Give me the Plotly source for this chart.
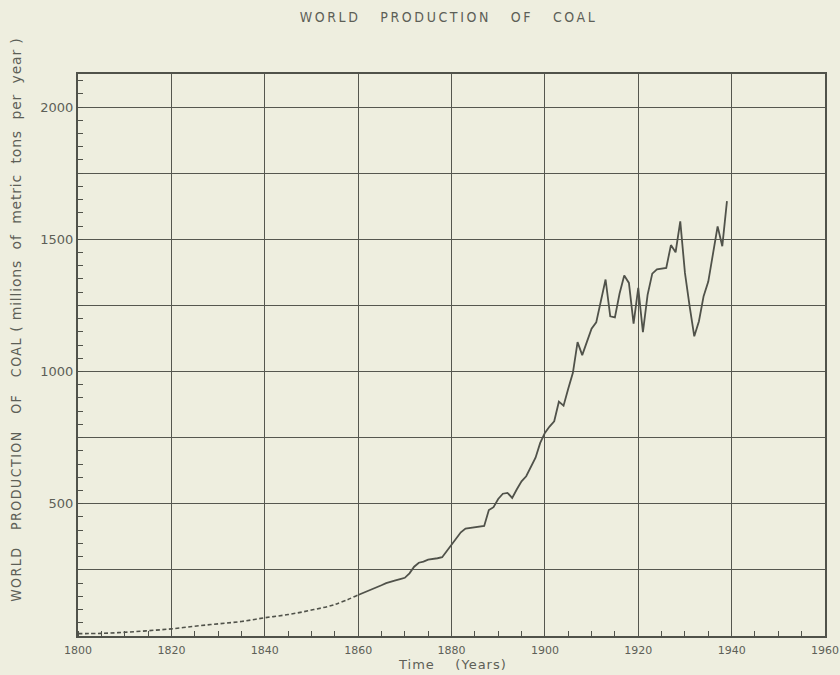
import plotly.graph_objects as go

# Estimated early production (drawn dashed), 1800-1860
est_years = [1800, 1805, 1810, 1815, 1820, 1825, 1830, 1835, 1840, 1845, 1850, 1855, 1860]
est_values = [9, 10, 14, 20, 27, 37, 46, 55, 69, 81, 98, 119, 155]

# Annual production, 1860-1939 (millions of metric tons)
years = list(range(1860, 1940))
production = [
    155, 162, 169, 176, 182, 192, 200, 206, 210, 215,    # 1860s
    220, 237, 262, 277, 281, 289, 291, 294, 298, 322,    # 1870s
    346, 372, 392, 406, 409, 411, 414, 416, 476, 487,    # 1880s
    518, 538, 541, 522, 555, 585, 604, 638, 674, 730,    # 1890s
    768, 792, 812, 886, 871, 935, 995, 1111, 1062, 1112,  # 1900s
    1162, 1186, 1265, 1348, 1209, 1205, 1295, 1363, 1335, 1181,  # 1910s
    1316, 1149, 1290, 1370, 1386, 1388, 1392, 1478, 1451, 1568,  # 1920s
    1373, 1247, 1133, 1190, 1285, 1340, 1445, 1549, 1474, 1644,  # 1930s
]

x_tick_vals = [1800, 1820, 1840, 1860, 1880, 1900, 1920, 1940, 1960]
x_tick_labels = [str(v) for v in x_tick_vals]
y_tick_vals = [250, 500, 750, 1000, 1250, 1500, 1750, 2000]
y_tick_labels = ["", "500", "", "1000", "", "1500", "", "2000"]

ink = "#50524a"
grid = "#55574f"
text_col = "#5d5f57"
bg = "#eeeedf"

SP = "\u00a0"


def spaced(s, px=1.5):
    return f"<span style='letter-spacing:{px}px'>{s}</span>"


fig = go.Figure()
fig.add_trace(go.Scatter(
    x=est_years, y=est_values, mode="lines",
    line=dict(color=ink, width=1.6, dash="4px,2.5px", shape="spline"),
    hoverinfo="skip", showlegend=False,
))
fig.add_trace(go.Scatter(
    x=years, y=production, mode="lines",
    line=dict(color=ink, width=1.8),
    showlegend=False,
))

title_text = (SP * 3).join(["WORLD", "PRODUCTION", "OF", "COAL"])
ylab_caps = (SP * 3).join(["WORLD", "PRODUCTION", "OF", "COAL"])
ylab_units = "(" + SP + (SP * 2).join(["millions", "of", "metric", "tons", "per", "year"]) + SP + ")"

fig.update_layout(
    width=840, height=675,
    margin=dict(l=78, r=15, t=74, b=38.5, autoexpand=False),
    paper_bgcolor=bg, plot_bgcolor=bg,
    font=dict(family="DejaVu Sans", color=text_col, size=11),
    title=dict(
        text=spaced(title_text, 2.6),
        x=0.534, xanchor="center", y=0.975, yanchor="middle",
        font=dict(family="DejaVu Sans Condensed, DejaVu Sans", size=14, color=text_col),
    ),
    xaxis=dict(
        range=[1800, 1960], tickmode="array", tickvals=x_tick_vals,
        ticktext=x_tick_labels, automargin=False,
        showgrid=True, gridcolor=grid, gridwidth=1, zeroline=False,
        showline=True, linecolor=ink, linewidth=2, mirror=True,
        ticks="", ticklabelstandoff=3,
        tickfont=dict(family="DejaVu Sans", size=11, color=text_col),
        minor=dict(tick0=1800, dtick=5, ticks="inside", ticklen=5, tickwidth=1.2,
                   tickcolor=ink, showgrid=False),
    ),
    yaxis=dict(
        range=[0, 2125], tickmode="array", tickvals=y_tick_vals,
        ticktext=y_tick_labels, automargin=False,
        ticksuffix=SP,
        showgrid=True, gridcolor=grid, gridwidth=1, zeroline=False,
        showline=True, linecolor=ink, linewidth=2, mirror=True,
        ticks="", ticklabelstandoff=0,
        tickfont=dict(family="DejaVu Sans", size=13, color=text_col),
        minor=dict(tick0=0, dtick=50, ticks="inside", ticklen=5, tickwidth=1.2,
                   tickcolor=ink, showgrid=False),
    ),
    annotations=[
        dict(
            text=(f"<span style='font-family:DejaVu Sans Condensed, DejaVu Sans;font-size:14px;letter-spacing:1.5px'>{ylab_caps}</span>"
                  f"<span style='font-size:14px;letter-spacing:0.8px'>{SP}{ylab_units}</span>"),
            textangle=-90, xref="paper", yref="paper", x=-0.084, y=0.563,
            xanchor="center", yanchor="middle", showarrow=False,
            font=dict(family="DejaVu Sans", color=text_col),
        ),
        dict(
            text=spaced(f"Time{SP * 4}(Years)", 1),
            xref="paper", yref="paper", x=0.502, y=-0.05,
            xanchor="center", yanchor="middle", showarrow=False,
            font=dict(family="DejaVu Sans", size=13, color=text_col),
        ),
    ],
)

fig.write_html("out.html")
